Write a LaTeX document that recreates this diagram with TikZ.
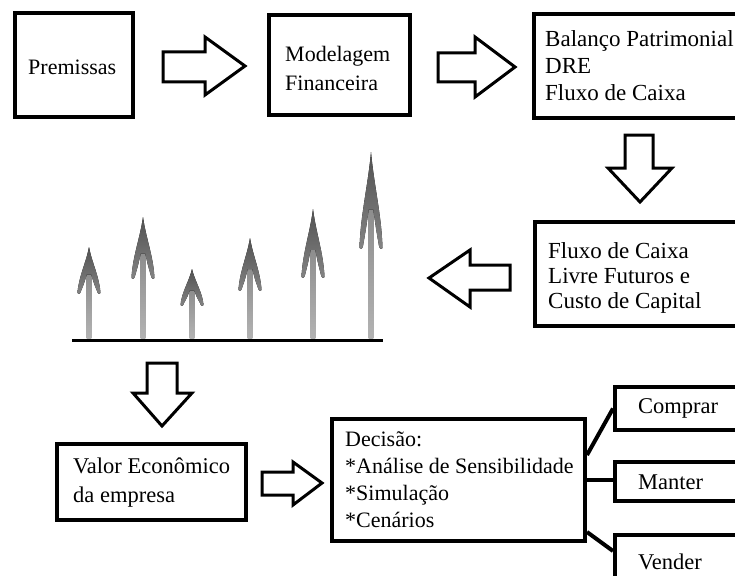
\documentclass[tikz,border=0pt]{standalone}
\usepackage{fontspec}
\setmainfont{Liberation Serif}
\usetikzlibrary{calc}
\newcommand{\chartarrow}[3]{%
  \fill[top color=black!45, bottom color=black!30]
    ({#1-2.3},{#2+0.55*#3}) rectangle ({#1+2.3},338);
  \fill[top color=black!68, bottom color=black!48]
    (#1,#2) .. controls ({#1-3},{#2+0.35*#3}) and ({#1-10.5},{#2+0.65*#3}) .. ({#1-11.5},{#2+#3})
    .. controls ({#1-11},{#2+#3+2}) and ({#1-8.5},{#2+#3+1}) .. ({#1-8},{#2+#3-2})
    .. controls ({#1-5},{#2+0.8*#3}) .. ({#1-2.3},{#2+0.6*#3})
    -- ({#1+2.3},{#2+0.6*#3})
    .. controls ({#1+5},{#2+0.8*#3}) .. ({#1+8},{#2+#3-2})
    .. controls ({#1+8.5},{#2+#3+1}) and ({#1+11},{#2+#3+2}) .. ({#1+11.5},{#2+#3})
    .. controls ({#1+10.5},{#2+0.65*#3}) and ({#1+3},{#2+0.35*#3}) .. (#1,#2) -- cycle;
}
\begin{document}
\begin{tikzpicture}[x=1pt,y=-1pt,
  box/.style={draw=black, line width=4pt, fill=white, inner sep=0pt, rectangle},
  txt/.style={inner sep=0pt, anchor=west, align=left, font=\fontsize{22}{27}\selectfont},
  blockarrow/.style={draw=black, fill=white, line width=3pt, line join=miter},
  link/.style={draw=black, line width=4pt}]
\clip (0,0) rectangle (735,575);
\fill[white] (0,0) rectangle (735,575);

% boxes
\node[box, minimum width=118pt, minimum height=104pt] (prem) at (74,65) {};
\node[box, minimum width=141pt, minimum height=100pt] (model) at (339.5,65) {};
\node[box, minimum width=211pt, minimum height=104pt] (bal) at (639.5,66) {};
\node[box, minimum width=210pt, minimum height=104pt] (fcl) at (640,274) {};
\node[box, minimum width=189pt, minimum height=76pt] (valor) at (151.5,482) {};
\node[box, minimum width=253pt, minimum height=122pt] (dec) at (458.5,480) {};
\node[box, minimum width=130pt, minimum height=43pt] (comprar) at (680,408.5) {};
\node[box, minimum width=130pt, minimum height=39pt] (manter) at (680,481.5) {};
\node[box, minimum width=130pt, minimum height=55pt] (vender) at (680,562.5) {};

% texts
\node[txt] (tprem) at (28,67) {Premissas};
\node[txt, font=\fontsize{22}{29}\selectfont] (tmodel) at (285,68) {Modelagem\\Financeira};
\node[txt, font=\fontsize{23}{27}\selectfont] (tbal) at (545,66) {Balanço Patrimonial\\DRE\\Fluxo de Caixa};
\node[txt, font=\fontsize{23}{25}\selectfont] (tfcl) at (548,278) {Fluxo de Caixa\\Livre Futuros e\\Custo de Capital};
\node[txt, font=\fontsize{22.5}{29}\selectfont] (tvalor) at (73,483) {Valor Econômico\\da empresa};
\node[txt] (tdec) at (345,480) {Decisão:\\*Análise de Sensibilidade\\*Simulação\\*Cenários};
\node[txt, font=\fontsize{22.5}{27}\selectfont] (tcomprar) at (638,408) {Comprar};
\node[txt, font=\fontsize{22.5}{27}\selectfont] (tmanter) at (638,482) {Manter};
\node[txt, font=\fontsize{22.5}{27}\selectfont] (tvender) at (638,562) {Vender};

% block arrows
\draw[blockarrow] (163,52) -- (205,52) -- (205,37) -- (245,66) -- (205,95) -- (205,82) -- (163,82) -- cycle;
\draw[blockarrow] (438,53) -- (475,53) -- (475,37) -- (515,67) -- (475,97) -- (475,82) -- (438,82) -- cycle;
\draw[blockarrow] (625,135) -- (653,135) -- (653,168) -- (672,168) -- (640,202) -- (608,168) -- (625,168) -- cycle;
\draw[blockarrow] (510,265) -- (470,265) -- (470,250) -- (429,278) -- (470,307) -- (470,290) -- (510,290) -- cycle;
\draw[blockarrow] (147,363) -- (177,363) -- (177,393) -- (192,393) -- (162,426) -- (133,393) -- (147,393) -- cycle;
\draw[blockarrow] (262,472) -- (293,472) -- (293,462) -- (322,483) -- (293,505) -- (293,495) -- (262,495) -- cycle;

% chart
\chartarrow{89}{247}{46}
\chartarrow{143}{217}{61}
\chartarrow{192}{269}{36}
\chartarrow{250}{238}{52}
\chartarrow{313}{209}{68}
\chartarrow{371}{152}{96}
\coordinate (axisL) at (72,340);
\coordinate (axisR) at (383,340);
\draw[line width=3pt] (axisL) -- (axisR);

% connectors
\draw[link] ([yshift=25pt]dec.east) -- (comprar.west);
\draw[link] (dec.east) -- (dec.east -| manter.west);
\draw[link] ([yshift=-52pt]dec.east) -- ([yshift=-18pt]vender.north west);
\end{tikzpicture}
\end{document}
